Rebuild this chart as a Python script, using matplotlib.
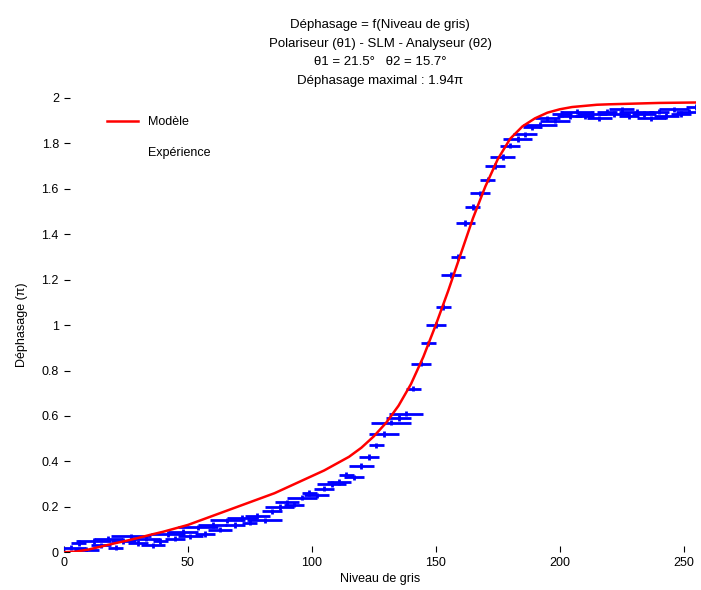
import numpy as np
import matplotlib
matplotlib.use("Agg")
import matplotlib.pyplot as plt
from matplotlib.lines import Line2D

plt.rcParams['font.family'] = ['Liberation Sans', 'DejaVu Sans']

# modele (courbe rouge)
model_gris = [0, 5, 10, 15, 20, 25, 30, 35, 40, 45, 50, 55, 60, 65, 70, 75, 80, 85, 90,
              95, 100, 105, 110, 115, 120, 125, 130, 135, 140, 145, 150, 155, 160, 165,
              170, 175, 180, 185, 190, 195, 200, 205, 210, 215, 220, 230, 240, 255]
model_dephasage = [0.0, 0.003, 0.012, 0.025, 0.038, 0.05, 0.063, 0.077, 0.09, 0.105, 0.12,
                   0.14, 0.16, 0.18, 0.2, 0.22, 0.24, 0.26, 0.285, 0.31, 0.335, 0.36, 0.39,
                   0.42, 0.46, 0.51, 0.57, 0.645, 0.74, 0.86, 1.0, 1.15, 1.31, 1.47, 1.61,
                   1.73, 1.82, 1.875, 1.91, 1.935, 1.95, 1.96, 1.965, 1.97, 1.972, 1.975,
                   1.978, 1.98]

# mesures (points bleus)
exp_gris = np.arange(0, 256, 3)
exp_dephasage = [0.00, 0.02, 0.04, 0.01, 0.05, 0.03, 0.06, 0.02, 0.05, 0.07,
                 0.04, 0.06, 0.03, 0.05, 0.08, 0.06, 0.09, 0.07, 0.11, 0.08,
                 0.12, 0.10, 0.14, 0.12, 0.15, 0.13, 0.16, 0.14, 0.18, 0.20,
                 0.22, 0.21, 0.24, 0.26, 0.25, 0.28, 0.30, 0.31, 0.34, 0.33,
                 0.38, 0.42, 0.47, 0.52, 0.57, 0.59, 0.61, 0.72, 0.83, 0.92,
                 1.00, 1.08, 1.22, 1.30, 1.45, 1.52, 1.58, 1.64, 1.70, 1.74,
                 1.79, 1.82, 1.84, 1.87, 1.88, 1.91, 1.90, 1.93, 1.92, 1.94,
                 1.92, 1.93, 1.91, 1.94, 1.93, 1.95, 1.92, 1.94, 1.93, 1.91,
                 1.94, 1.92, 1.95, 1.93, 1.94, 1.96]
exp_err_x = [4, 6, 3, 5, 7, 4, 6, 3, 5, 8, 4, 6, 5, 3, 7, 4, 6, 5, 8, 4,
             6, 5, 7, 4, 6, 3, 5, 7, 4, 6, 5, 4, 6, 3, 5, 4, 6, 5, 3, 4,
             5, 4, 3, 6, 8, 5, 7, 3, 4, 3, 4, 3, 4, 3, 4, 3, 4, 3, 4, 5,
             4, 6, 5, 4, 7, 5, 6, 4, 5, 7, 4, 6, 5, 4, 6, 5, 4, 7, 5, 6,
             4, 5, 6, 4, 5, 4]

fig = plt.figure(figsize=(7.01, 5.90), dpi=100)
ax = fig.add_axes([0.091, 0.064, 0.902, 0.770])

ax.errorbar(exp_gris, exp_dephasage, xerr=exp_err_x, yerr=0.012, fmt='none',
            ecolor='blue', elinewidth=2, capsize=0)
ax.plot(model_gris, model_dephasage, color='red', linewidth=1.8)

ax.set_xlim(0, 255)
ax.set_ylim(0, 2)
ax.set_xticks([0, 50, 100, 150, 200, 250])
ax.set_yticks([0, 0.2, 0.4, 0.6, 0.8, 1, 1.2, 1.4, 1.6, 1.8, 2])
ax.set_yticklabels(['0', '0.2', '0.4', '0.6', '0.8', '1', '1.2', '1.4', '1.6', '1.8', '2'])
for s in ax.spines.values():
    s.set_visible(False)
ax.tick_params(direction='in', length=4, labelsize=9)

ax.set_xlabel('Niveau de gris', fontsize=9, labelpad=3)
ax.set_ylabel('Déphasage (π)', fontsize=9, labelpad=10)
ax.set_title('Déphasage = f(Niveau de gris)\n'
             'Polariseur (θ1) - SLM - Analyseur (θ2)\n'
             'θ1 = 21.5°   θ2 = 15.7°\n'
             'Déphasage maximal : 1.94π', fontsize=9.5, linespacing=1.75, pad=10)

handles = [Line2D([], [], color='red', linewidth=1.8),
           Line2D([], [], color='none')]
ax.legend(handles, ['Modèle', 'Expérience'], loc='upper left',
          bbox_to_anchor=(0.05, 0.985), frameon=False, fontsize=9,
          handlelength=2.5, labelspacing=1.5)

fig.savefig('out.png', dpi=100)
